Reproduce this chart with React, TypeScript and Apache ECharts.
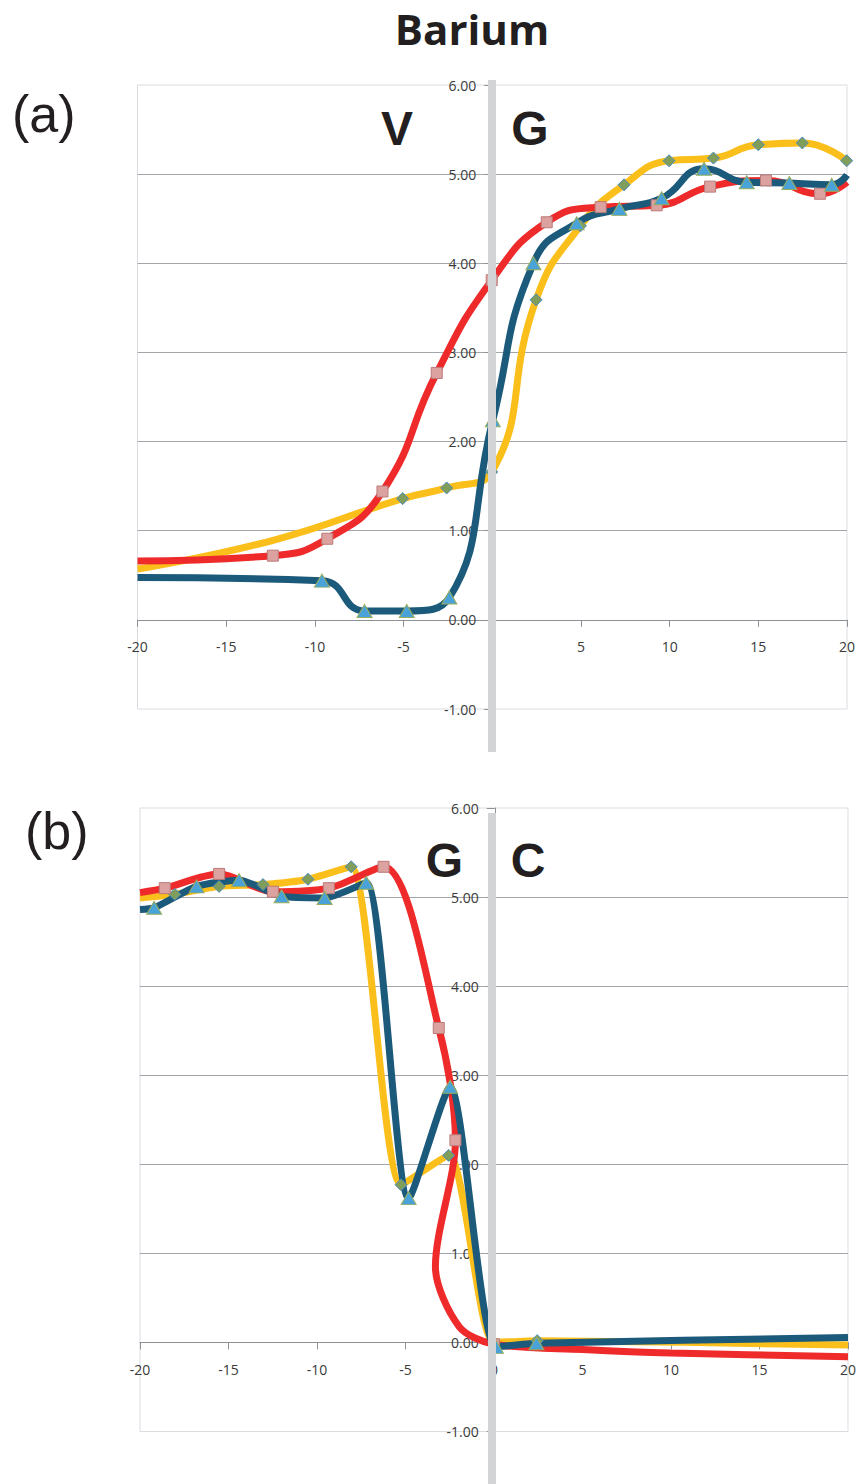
import React, { useEffect, useRef } from "react";
import * as echarts from "echarts";

// [x, y, marker(1) / curve-only point(0)]
type P = [number, number, number];

// ---- panel (a): V | G ----
const aYellow: P[] = [
  [-20, 0.57, 0], [-12.4, 0.89, 0], [-5.05, 1.36, 1], [-2.57, 1.48, 1], [-0.03, 1.66, 1],
  [2.47, 3.59, 1], [4.97, 4.42, 1], [7.43, 4.88, 1], [9.97, 5.15, 1], [12.47, 5.18, 1],
  [15.0, 5.33, 1], [17.48, 5.35, 1], [19.98, 5.15, 1],
];
const aRed: P[] = [
  [-20, 0.66, 0], [-12.37, 0.72, 1], [-9.3, 0.91, 1], [-6.19, 1.44, 1], [-3.13, 2.77, 1],
  [-0.03, 3.81, 1], [3.07, 4.46, 1], [6.11, 4.63, 1], [9.27, 4.65, 1], [12.28, 4.86, 1],
  [15.43, 4.93, 1], [18.48, 4.78, 1], [20, 4.91, 0],
];
const aBlue: P[] = [
  [-20, 0.475, 0], [-9.6, 0.44, 1], [-7.2, 0.1, 1], [-4.82, 0.1, 1], [-2.42, 0.25, 1],
  [0.03, 2.24, 1], [2.32, 4.0, 1], [4.76, 4.45, 1], [7.17, 4.61, 1], [9.55, 4.73, 1],
  [11.94, 5.06, 1], [14.35, 4.91, 1], [16.75, 4.9, 1], [19.14, 4.88, 1], [20, 4.99, 0],
];

// ---- panel (b): G | C ----
const bYellow: P[] = [
  [-20, 4.99, 0], [-18.03, 5.03, 1], [-15.53, 5.12, 1], [-13.05, 5.14, 1], [-10.51, 5.2, 1],
  [-8.07, 5.34, 1], [-5.25, 1.77, 1], [-2.56, 2.1, 1], [0.0, 0.0, 1], [2.44, 0.02, 1],
  [20, -0.03, 0],
];
const bRed: P[] = [
  [-20, 5.05, 0], [-18.6, 5.1, 1], [-15.53, 5.26, 1], [-12.49, 5.06, 1], [-9.33, 5.1, 1],
  [-6.24, 5.34, 1], [-3.12, 3.53, 1], [-2.18, 2.27, 1], [-3.31, 0.85, 0], [-1.96, 0.175, 0],
  [0.0, -0.02, 1], [5, -0.08, 0], [10, -0.12, 0], [20, -0.16, 0],
];
const bBlue: P[] = [
  [-20, 4.86, 0], [-19.2, 4.88, 1], [-16.8, 5.12, 1], [-14.4, 5.19, 1], [-12.0, 5.01, 1],
  [-9.57, 4.99, 1], [-7.22, 5.16, 1], [-4.82, 1.62, 1], [-2.48, 2.87, 1], [0.11, -0.05, 1],
  [2.4, -0.01, 1], [20, 0.056, 0],
];

const xRange = [-20, 20];
const yRange = [-1, 6];
const panelLetters = ["(a)", "(b)"];
const regionLabels = [["V", "G"], ["G", "C"]];
const chartTitle = "Barium";

const COL_RED = "#ee2a2b";
const COL_YEL = "#fbbf1b";
const COL_BLUE = "#1b5a7a";

function toData(pts: P[]) {
  return pts.map(([x, y, m]) => (m ? { value: [x, y] } : { value: [x, y], symbol: "none" }));
}

function seriesFor(grid: number, smooth: number[], yel: P[], red: P[], blue: P[]) {
  const base = {
    type: "line",
    xAxisIndex: grid,
    yAxisIndex: grid,
    showSymbol: true,
    clip: true,
    emphasis: { disabled: true },
  };
  return [
    {
      ...base,
      name: "yellow" + grid,
      smooth: smooth[0],
      data: toData(yel),
      symbol: "diamond",
      symbolSize: 12,
      lineStyle: { color: COL_YEL, width: 7 },
      itemStyle: { color: "#7f9d5b", borderColor: "#4b8bc2", borderWidth: 1 },
    },
    {
      ...base,
      name: "red" + grid,
      smooth: smooth[1],
      data: toData(red),
      symbol: "rect",
      symbolSize: 11,
      lineStyle: { color: COL_RED, width: 7 },
      itemStyle: { color: "#dba2a0", borderColor: "#bb7b79", borderWidth: 1 },
    },
    {
      ...base,
      name: "blue" + grid,
      smooth: smooth[2],
      data: toData(blue),
      symbol: "triangle",
      symbolSize: [15, 13],
      lineStyle: { color: COL_BLUE, width: 7 },
      itemStyle: { color: "#4aa3d8", borderColor: "#98ad5c", borderWidth: 1 },
    },
  ];
}

const labelFont = { fontFamily: "Open Sans", fontSize: 14, color: "#3a3a3a" };

const grids = [
  { left: 137.5, top: 85, width: 709.5, height: 624 },
  { left: 140, top: 808, width: 709.5, height: 623.5 },
];

function xAxisFor(grid: number) {
  const g = grids[grid];
  // place the axis at y = 0
  const zeroFromBottom = (g.height * (0 - yRange[0])) / (yRange[1] - yRange[0]);
  return {
    type: "value",
    gridIndex: grid,
    min: xRange[0],
    max: xRange[1],
    interval: 5,
    position: "bottom",
    offset: -zeroFromBottom,
    axisLine: { onZero: false, lineStyle: { color: "#8e9297", width: 1 } },
    axisTick: { show: true, length: 7, lineStyle: { color: "#8e9297" } },
    axisLabel: { ...labelFont, margin: 20 },
    splitLine: { show: false },
  };
}

function yAxisFor(grid: number) {
  const g = grids[grid];
  const zeroFromLeft = (g.width * (0 - xRange[0])) / (xRange[1] - xRange[0]);
  return {
    type: "value",
    gridIndex: grid,
    min: yRange[0],
    max: yRange[1],
    interval: 1,
    position: "left",
    offset: -zeroFromLeft,
    axisLine: { show: true, onZero: false, lineStyle: { color: "#8e9297" } },
    axisTick: { show: true, length: 8, lineStyle: { color: "#8e9297" } },
    axisLabel: { ...labelFont, margin: 16, formatter: (v: number) => v.toFixed(2) },
    splitLine: {
      show: true,
      showMinLine: false,
      showMaxLine: false,
      lineStyle: { color: "#a2a6ab", width: 1 },
    },
  };
}

export default function App() {
  const ref = useRef<HTMLDivElement>(null);
  useEffect(() => {
    if (!ref.current) return;
    const chart = echarts.init(ref.current, undefined, { renderer: "svg" });
    const textEl = (
      text: string,
      x: number,
      y: number,
      size: number,
      weight: string,
      family: string,
      align = "center"
    ) => ({
      type: "text",
      x,
      y,
      z: 200,
      style: {
        text,
        fontSize: size,
        fontWeight: weight,
        fontFamily: family,
        fill: "#231f20",
        align,
        verticalAlign: "middle",
      },
    });
    chart.setOption({
      animation: false,
      backgroundColor: "#ffffff",
      grid: grids.map((g) => ({
        ...g,
        show: true,
        borderColor: "#d9dce1",
        borderWidth: 1,
        backgroundColor: "transparent",
        containLabel: false,
      })),
      xAxis: [xAxisFor(0), xAxisFor(1)],
      yAxis: [yAxisFor(0), yAxisFor(1)],
      series: [
        ...seriesFor(0, [0.5, 0.5, 0.5], aYellow, aRed, aBlue),
        ...seriesFor(1, [0.22, 0.3, 0.22], bYellow, bRed, bBlue),
      ],
      graphic: [
        { type: "rect", z: 150, shape: { x: 488, y: 80, width: 8, height: 672 }, style: { fill: "#d3d4d6" } },
        { type: "rect", z: 150, shape: { x: 488, y: 813, width: 8, height: 671 }, style: { fill: "#d3d4d6" } },
        textEl(chartTitle, 472, 28, 42, "bold", "Open Sans"),
        textEl(panelLetters[0], 12, 114, 52, "normal", "Liberation Sans", "left"),
        textEl(panelLetters[1], 25, 831, 52, "normal", "Liberation Sans", "left"),
        textEl(regionLabels[0][0], 397, 128, 48, "bold", "Liberation Sans"),
        textEl(regionLabels[0][1], 530, 128, 48, "bold", "Liberation Sans"),
        textEl(regionLabels[1][0], 444.5, 860, 48, "bold", "Liberation Sans"),
        textEl(regionLabels[1][1], 528, 860, 48, "bold", "Liberation Sans"),
      ],
    });
    return () => chart.dispose();
  }, []);
  return (
    <div
      ref={ref}
      style={{ position: "absolute", left: 0, top: 0, width: 859, height: 1484, background: "#fff" }}
    />
  );
}
